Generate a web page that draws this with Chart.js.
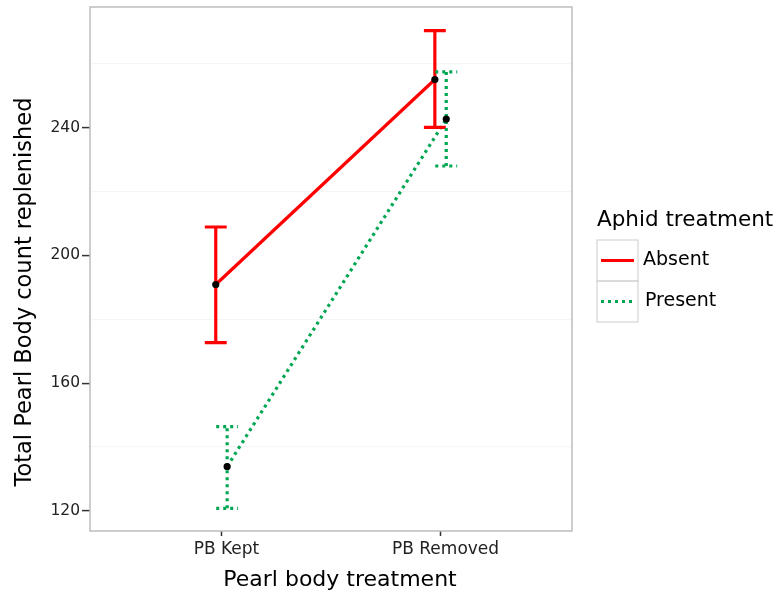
<!DOCTYPE html>
<html>
<head>
<meta charset="utf-8">
<script src="https://cdn.jsdelivr.net/npm/chart.js@4.4.1/dist/chart.umd.min.js"></script>
<style>
  html, body { margin: 0; padding: 0; background: #fff; }
  #wrap { width: 779px; height: 597px; }
</style>
</head>
<body>
<div id="wrap"><canvas id="myChart"></canvas></div>
<script>
// données
const categories = ['PB Kept', 'PB Removed'];
const groups = ['Absent', 'Present'];
const absentMean = [190.9, 255.1];
const absentLow = [172.7, 240.1];
const absentHigh = [208.9, 270.4];
const presentMean = [133.9, 242.7];
const presentLow = [120.8, 228.0];
const presentHigh = [146.4, 257.5];
const yTickLabels = [120, 160, 200, 240];
const yMinorTicks = [140, 180, 220, 260];

const dodge = 0.026;
const fontFamily = '"DejaVu Sans", sans-serif';
const red = '#ff0000';
const green = '#00a651';

function pts(means, shift) {
    return means.map((v, i) => ({ x: i + 1 + shift, y: v }));
}

const errorBars = [
    { color: red, dash: [], low: absentLow, high: absentHigh, shift: -dodge },
    { color: green, dash: [3, 4], low: presentLow, high: presentHigh, shift: dodge }
];

// barres d'erreur dessinées avec les échelles du graphique
const errorBarPlugin = {
    id: 'errorBars',
    afterDatasetsDraw(chart) {
        const ctx = chart.ctx;
        const xs = chart.scales.x, ys = chart.scales.y;
        ctx.save();
        errorBars.forEach(eb => {
            ctx.strokeStyle = eb.color;
            ctx.lineWidth = 3.2;
            ctx.setLineDash(eb.dash);
            eb.low.forEach((lo, i) => {
                const x = xs.getPixelForValue(i + 1 + eb.shift);
                const x0 = xs.getPixelForValue(i + 1 + eb.shift - 0.05);
                const x1 = xs.getPixelForValue(i + 1 + eb.shift + 0.05);
                const yl = ys.getPixelForValue(lo);
                const yh = ys.getPixelForValue(eb.high[i]);
                ctx.beginPath();
                ctx.moveTo(x, yl); ctx.lineTo(x, yh);
                ctx.moveTo(x0, yl); ctx.lineTo(x1, yl);
                ctx.moveTo(x0, yh); ctx.lineTo(x1, yh);
                ctx.stroke();
            });
        });
        ctx.restore();
        // points noirs au-dessus
        ctx.save();
        ctx.fillStyle = '#000';
        [[absentMean, -dodge], [presentMean, dodge]].forEach(([m, s]) => {
            m.forEach((v, i) => {
                ctx.beginPath();
                ctx.arc(xs.getPixelForValue(i + 1 + s), ys.getPixelForValue(v), 3.6, 0, Math.PI * 2);
                ctx.fill();
            });
        });
        ctx.restore();
    }
};

// cadre du panneau, titres des axes + légende façon ggplot
const panelPlugin = {
    id: 'panel',
    afterDraw(chart) {
        const ctx = chart.ctx;
        const a = chart.chartArea;
        ctx.save();
        ctx.strokeStyle = '#bdbdbd';
        ctx.lineWidth = 1.5;
        ctx.strokeRect(a.left, a.top, a.right - a.left, a.bottom - a.top);

        ctx.fillStyle = '#000';
        ctx.textBaseline = 'middle';
        ctx.textAlign = 'center';
        ctx.font = '22px ' + fontFamily;
        ctx.fillText('Pearl body treatment', 340, 580);
        ctx.save();
        ctx.translate(25, 292);
        ctx.rotate(-Math.PI / 2);
        ctx.font = '22.5px ' + fontFamily;
        ctx.fillText('Total Pearl Body count replenished', 0, 0);
        ctx.restore();

        const lx = 597, ly = 240, kw = 41, kh = 41;
        ctx.font = '21.5px ' + fontFamily;
        ctx.textAlign = 'left';
        ctx.fillText('Aphid treatment', lx, 220);
        const keys = [{ c: red, d: [] }, { c: green, d: [3, 4] }];
        keys.forEach((k, i) => {
            const top = ly + i * kh;
            ctx.strokeStyle = '#d4d4d4';
            ctx.lineWidth = 1.2;
            ctx.setLineDash([]);
            ctx.strokeRect(lx, top, kw, kh);
            ctx.strokeStyle = k.c;
            ctx.lineWidth = 3.2;
            ctx.setLineDash(k.d);
            ctx.beginPath();
            ctx.moveTo(lx + 4, top + kh / 2);
            ctx.lineTo(lx + kw - 4, top + kh / 2);
            ctx.stroke();
            ctx.setLineDash([]);
            ctx.fillStyle = '#000';
            ctx.font = '19px ' + fontFamily;
            ctx.fillText(groups[i], lx + kw + 5 + i * 2, top + kh / 2);
        });
        ctx.restore();
    }
};

const ctx = document.getElementById('myChart').getContext('2d');
const myChart = new Chart(ctx, {
    type: 'line',
    data: {
        datasets: [{
            label: groups[0],
            data: pts(absentMean, -dodge),
            borderColor: red,
            borderWidth: 3.2,
            pointRadius: 0,
            fill: false
        }, {
            label: groups[1],
            data: pts(presentMean, dodge),
            borderColor: green,
            borderWidth: 3.2,
            borderDash: [3, 4],
            pointRadius: 0,
            fill: false
        }]
    },
    options: {
        responsive: true,
        maintainAspectRatio: false,
        animation: false,
        layout: { padding: { left: 0, top: 7, right: 207, bottom: 0 } },
        plugins: {
            legend: { display: false },
            tooltip: { enabled: false }
        },
        scales: {
            x: {
                type: 'linear',
                min: 0.4,
                max: 2.6,
                afterBuildTicks: scale => { scale.ticks = [{ value: 1 }, { value: 2 }]; },
                afterFit: scale => { scale.height = 66; scale.paddingLeft = 0; scale.paddingRight = 0; },
                ticks: {
                    callback: v => categories[v - 1],
                    color: '#222',
                    font: { family: fontFamily, size: 17 },
                    padding: 3,
                    labelOffset: 5,
                    maxRotation: 0
                },
                grid: {
                    drawOnChartArea: false,
                    tickLength: 5,
                    tickColor: '#333',
                    tickWidth: 1.5
                },
                border: { display: false }
            },
            y: {
                min: 113.7,
                max: 277.8,
                afterBuildTicks: scale => {
                    scale.ticks = yTickLabels.concat(yMinorTicks).sort((a, b) => a - b).map(v => ({ value: v }));
                },
                afterFit: scale => { scale.width = 90; scale.paddingTop = 0; scale.paddingBottom = 0; },
                ticks: {
                    callback: v => yTickLabels.includes(v) ? String(v) : '',
                    color: '#222',
                    font: { family: fontFamily, size: 15.5 },
                    padding: 2
                },
                grid: {
                    color: c => yTickLabels.includes(c.tick.value) ? 'rgba(0,0,0,0)' : '#f5f5f5',
                    lineWidth: 1.2,
                    tickLength: 8,
                    tickColor: c => yTickLabels.includes(c.tick.value) ? '#333' : 'rgba(0,0,0,0)',
                    tickWidth: 1.5
                },
                border: { display: false }
            }
        }
    },
    plugins: [errorBarPlugin, panelPlugin]
});
</script>
</body>
</html>
